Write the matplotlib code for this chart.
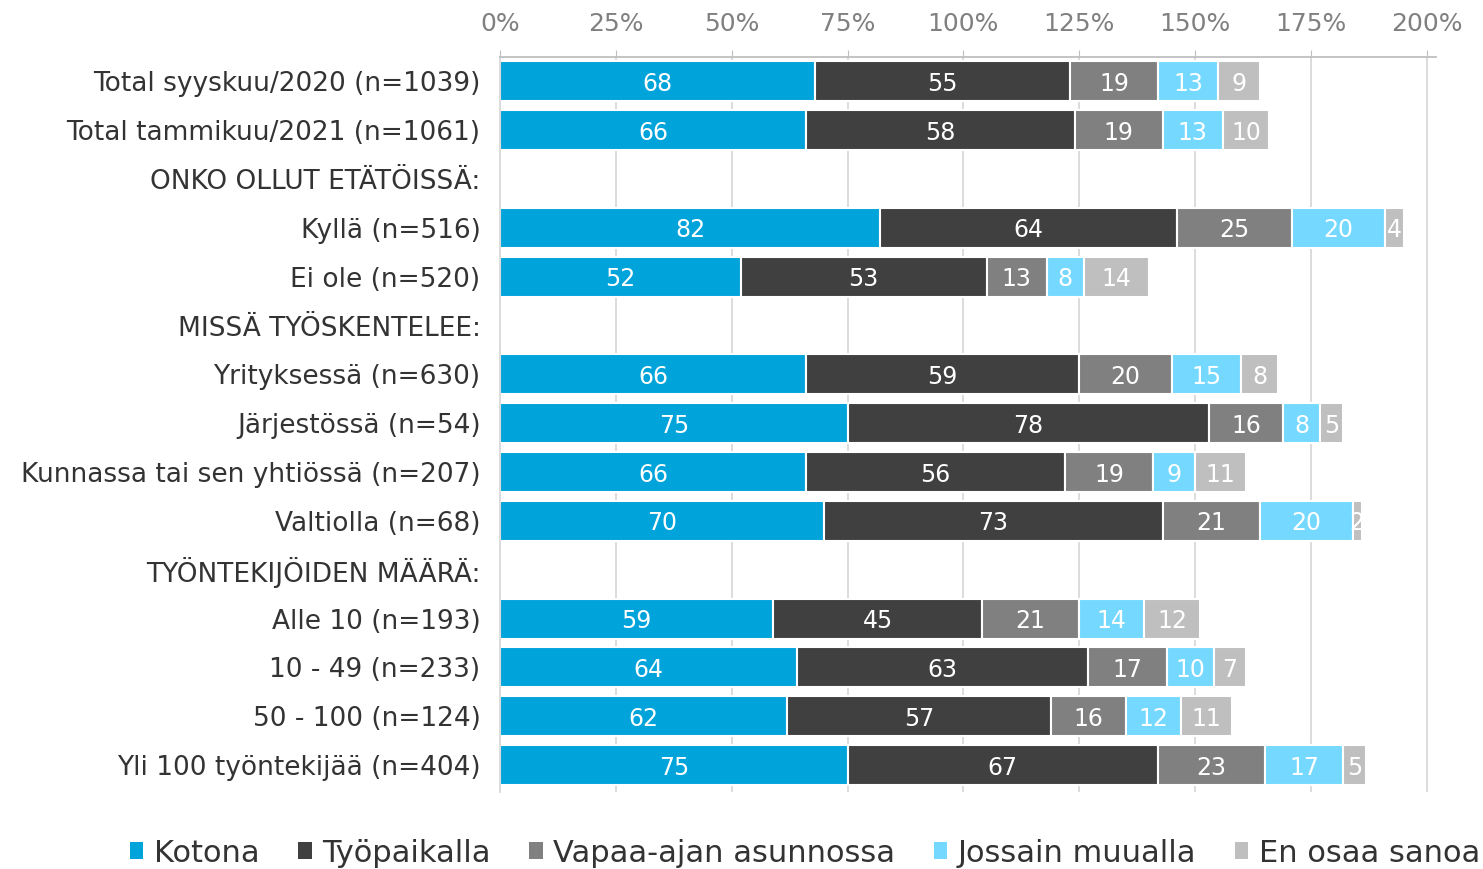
import numpy as np
import matplotlib
matplotlib.use('Agg')
import matplotlib.pyplot as plt
from matplotlib.patches import Patch

plt.rcParams['font.family'] = 'DejaVu Sans'

# ── data (header rows have no values)
categories = [
    'Total syyskuu/2020 (n=1039)',
    'Total tammikuu/2021 (n=1061)',
    'ONKO OLLUT ETÄTÖISSÄ:',
    'Kyllä (n=516)',
    'Ei ole (n=520)',
    'MISSÄ TYÖSKENTELEE:',
    'Yrityksessä (n=630)',
    'Järjestössä (n=54)',
    'Kunnassa tai sen yhtiössä (n=207)',
    'Valtiolla (n=68)',
    'TYÖNTEKIJÖIDEN MÄÄRÄ:',
    'Alle 10 (n=193)',
    '10 - 49 (n=233)',
    '50 - 100 (n=124)',
    'Yli 100 työntekijää (n=404)',
]
kotona      = [68, 66, 0, 82, 52, 0, 66, 75, 66, 70, 0, 59, 64, 62, 75]
tyopaikalla = [55, 58, 0, 64, 53, 0, 59, 78, 56, 73, 0, 45, 63, 57, 67]
vapaa_ajan  = [19, 19, 0, 25, 13, 0, 20, 16, 19, 21, 0, 21, 17, 16, 23]
muualla     = [13, 13, 0, 20, 8, 0, 15, 8, 9, 20, 0, 14, 10, 12, 17]
en_osaa     = [9, 10, 0, 4, 14, 0, 8, 5, 11, 2, 0, 12, 7, 11, 5]

series_names = ['Kotona', 'Työpaikalla', 'Vapaa-ajan asunnossa', 'Jossain muualla', 'En osaa sanoa']
series = [kotona, tyopaikalla, vapaa_ajan, muualla, en_osaa]
colors = ['#00A3DA', '#404040', '#808080', '#75D9FF', '#BFBFBF']
xticks = [0, 25, 50, 75, 100, 125, 150, 175, 200]

fig = plt.figure(figsize=(14.83, 8.69), dpi=100)
ax = fig.add_axes([500 / 1483, 1 - 792 / 869, 936 / 1483, (792 - 57) / 869])

y = np.arange(len(categories))
left = np.zeros(len(categories))
for vals, col in zip(series, colors):
    vals = np.array(vals, dtype=float)
    bars = ax.barh(y, vals, left=left, height=0.82, color=col,
                   edgecolor='white', linewidth=1.5, zorder=2)
    for bar, v in zip(bars, vals):
        if v <= 0:
            continue
        t = ax.text(bar.get_x() + bar.get_width() / 2, bar.get_y() + bar.get_height() / 2,
                    f'{int(v)}', ha='center', va='center_baseline', color='white',
                    fontsize=17, zorder=3)
        t.set_clip_path(bar)
    left += vals

ax.set_xlim(0, 202)
ax.set_ylim(len(categories) - 0.45, -0.5)
ax.set_yticks(y)
ax.set_yticklabels(categories, fontsize=19, color='#333333')
ax.tick_params(axis='y', length=0, pad=14)

ax.xaxis.tick_top()
ax.set_xticks(xticks)
ax.set_xticklabels([f'{t}%' for t in xticks], fontsize=18, color='#808080')
ax.tick_params(axis='x', length=5, color='#BFBFBF', pad=10)

ax.grid(axis='x', color='#D9D9D9', linewidth=1.3)
ax.set_axisbelow(True)
for s in ['right', 'bottom']:
    ax.spines[s].set_visible(False)
ax.spines['top'].set_color('#BFBFBF')
ax.spines['left'].set_color('#D9D9D9')
ax.spines['top'].set_linewidth(1.3)
ax.spines['left'].set_linewidth(1.3)

handles = [Patch(facecolor=c, edgecolor='none') for c in colors]
fig.legend(handles, series_names, loc='center left', bbox_to_anchor=(102 / 1483, 1 - 853 / 869),
           ncol=5, frameon=False, fontsize=22, handlelength=0.45, handleheight=0.45,
           handletextpad=0.35, columnspacing=1.25, labelcolor='#333333')

plt.savefig('out.png', dpi=100)
plt.close()
